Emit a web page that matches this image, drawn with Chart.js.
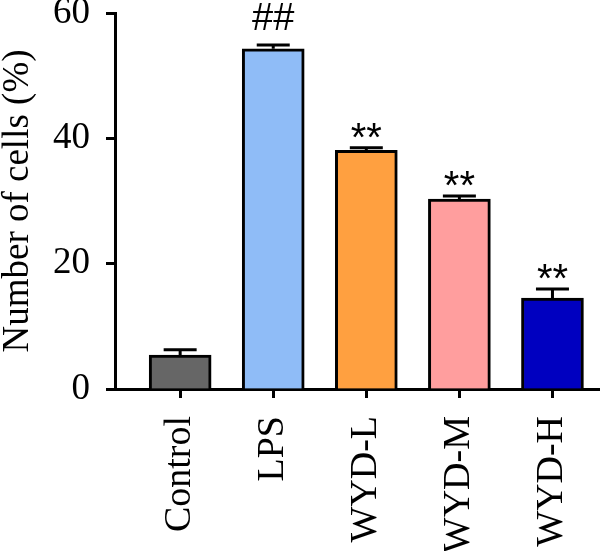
<!DOCTYPE html>
<html>
<head>
<meta charset="utf-8">
<script src="https://cdn.jsdelivr.net/npm/chart.js@4"></script>
<style>
  html, body { margin: 0; padding: 0; background: #fff; }
  #wrap { width: 600px; height: 551px; }
</style>
</head>
<body>
<div id="wrap"><canvas id="chart"></canvas></div>
<script>
// ── Data ───────────────────────────────────────────────
const groups = ['Control', 'LPS', 'WYD-L', 'WYD-M', 'WYD-H'];
const means  = [5.4, 54.3, 38.1, 30.3, 14.5];
const sds    = [0.85, 0.6, 0.4, 0.5, 1.45];
const marks  = ['', '##', '**', '**', '**'];
const colors = ['#666666', '#8fbcf7', '#ffa040', '#ff9e9e', '#0000c0'];
const yTicks = [0, 20, 40, 60];

const SERIF = '"Liberation Serif", "DejaVu Serif", serif';
const SANS  = '"Liberation Sans", Arial, sans-serif';

// error bars (one-sided, up) + significance marks
const errorBars = {
  id: 'errorBars',
  afterDatasetsDraw(chart) {
    const { ctx, scales: { x, y } } = chart;
    ctx.save();
    ctx.strokeStyle = '#000';
    ctx.fillStyle = '#000';
    ctx.lineWidth = 3;
    ctx.textAlign = 'center';
    ctx.textBaseline = 'alphabetic';
    means.forEach((m, i) => {
      const cx = x.getPixelForValue(i);
      const y0 = y.getPixelForValue(m);
      const y1 = y.getPixelForValue(m + sds[i]);
      ctx.beginPath();
      ctx.moveTo(cx, y0);
      ctx.lineTo(cx, y1);
      ctx.moveTo(cx - 16.5, y1);
      ctx.lineTo(cx + 16.5, y1);
      ctx.stroke();

      const mk = marks[i];
      if (!mk) return;
      if (mk === '##') {
        ctx.font = '38px ' + SANS;
        ctx.fillText(mk, cx, y1 - 15);
      } else {
        ctx.font = '40px ' + SANS;
        ctx.fillText(mk, cx, y1 + 3);
      }
    });
    ctx.restore();
  }
};

new Chart(document.getElementById('chart'), {
  type: 'bar',
  data: {
    datasets: [{
      data: means.map((v, i) => ({ x: i, y: v })),
      backgroundColor: colors,
      borderColor: '#000',
      borderWidth: 3,
      barThickness: 62,
    }],
  },
  options: {
    responsive: true,
    maintainAspectRatio: false,
    animation: false,
    events: [],
    layout: { padding: { top: 0, right: 1, bottom: 0, left: 0 } },
    plugins: { legend: { display: false }, tooltip: { enabled: false } },
    scales: {
      x: {
        type: 'linear',
        min: -0.7,
        max: 4.5,
        offset: false,
        z: 1,
        afterBuildTicks: (s) => { s.ticks = groups.map((_, i) => ({ value: i })); },
        afterFit: (s) => { s.height = 162; s.paddingLeft = 0; s.paddingRight = 0; },
        ticks: {
          autoSkip: false,
          minRotation: 90,
          maxRotation: 90,
          padding: 18,
          color: '#000',
          font: { family: SERIF, size: 38 },
          callback: (v) => groups[v],
        },
        grid: { offset: false, drawOnChartArea: false, tickLength: 9, tickWidth: 3, tickColor: '#000' },
        border: { color: '#000', width: 3 },
      },
      y: {
        min: 0,
        max: 60,
        z: 1,
        afterBuildTicks: (s) => { s.ticks = yTicks.map(v => ({ value: v })); },
        afterFit: (s) => { s.width = 115; s.paddingTop = 13; s.paddingBottom = 0; },
        ticks: {
          padding: 16,
          color: '#000',
          font: { family: SERIF, size: 37 },
        },
        grid: { drawOnChartArea: false, tickLength: 9, tickWidth: 3, tickColor: '#000' },
        border: { color: '#000', width: 3 },
        title: {
          display: true,
          text: 'Number of cells (%)',
          color: '#000',
          font: { family: SERIF, size: 37, lineHeight: 1 },
          padding: { top: 0, bottom: 16 },
        },
      },
    },
  },
  plugins: [errorBars],
});
</script>
</body>
</html>
